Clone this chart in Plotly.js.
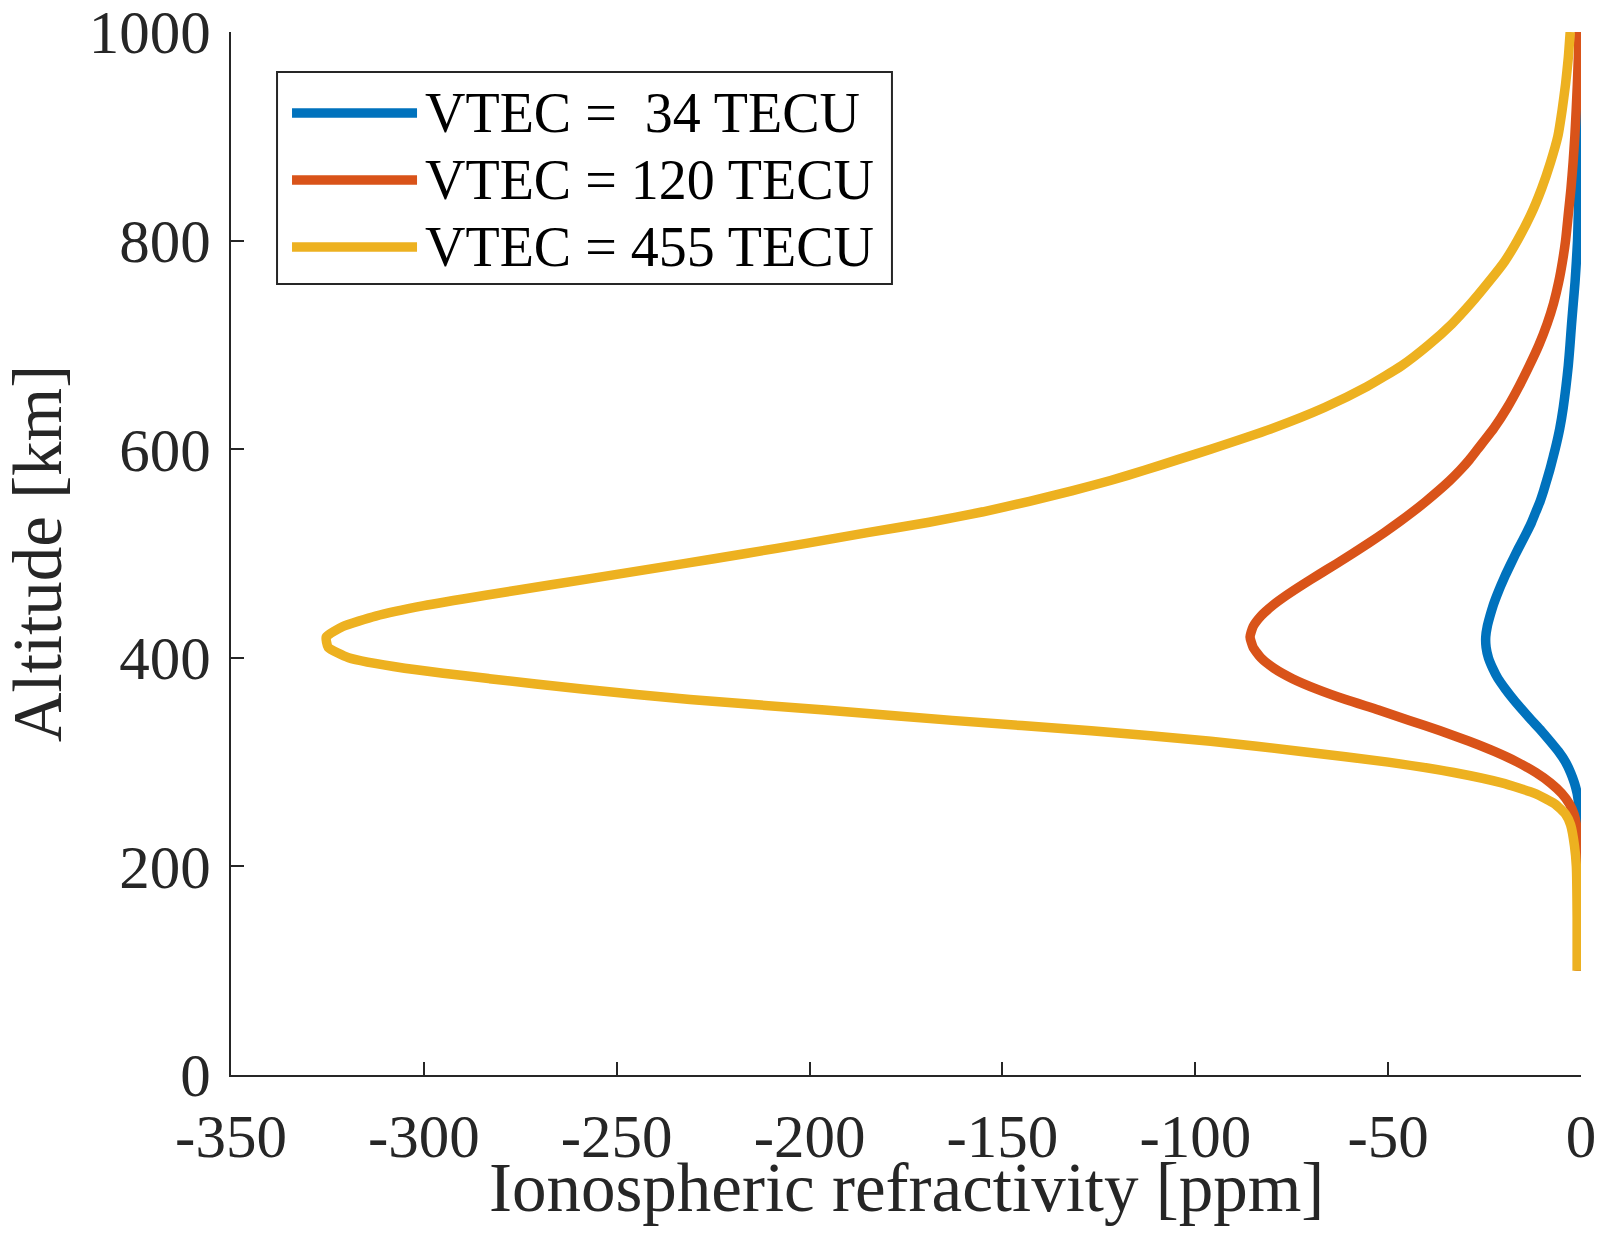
<!DOCTYPE html>
<html>
<head>
<meta charset="utf-8">
<script src="https://cdn.plot.ly/plotly-3.0.1.min.js"></script>
<style>
  html, body { margin: 0; padding: 0; background: #ffffff; }
  #chart { width: 1606px; height: 1258px; }
</style>
</head>
<body>
<div id="chart"></div>
<script>
// Altitude grid [km]
const altitudeKm = [100,150,200,220,240,250,260,270,280,290,300,310,320,330,340,350,360,370,380,390,400,410,420,430,440,450,460,470,480,490,500,510,520,530,540,550,560,570,580,590,600,620,640,660,680,700,720,740,760,780,800,825,850,875,900,925,950,975,1000];

// Ionospheric refractivity [ppm]
const refrVtec34 = [0,0,0,-0.05,-0.15,-0.3,-0.6,-1,-1.7,-2.7,-4,-5.8,-8,-10.3,-12.8,-15.2,-17.5,-19.6,-21.5,-22.9,-24,-24.6,-24.7,-24.3,-23.6,-22.8,-21.8,-20.7,-19.5,-18.2,-16.9,-15.5,-14.1,-12.8,-11.7,-10.6,-9.7,-8.9,-8.1,-7.4,-6.7,-5.5,-4.6,-3.9,-3.3,-2.85,-2.45,-2,-1.55,-1.2,-0.9,-0.7,-0.5,-0.35,-0.25,-0.18,-0.12,-0.08,-0.05];

const refrVtec120 = [-0.5,-0.5,-0.5,-0.7,-1.2,-1.8,-3,-5,-7.9,-11.7,-16.5,-22.3,-29,-36.5,-44.5,-52.5,-61,-68.5,-74.8,-79.6,-83,-85,-85.8,-85,-83,-80,-76.3,-72.2,-67.9,-63.5,-59.2,-55,-51,-47.2,-43.6,-40.2,-37,-34,-31.3,-28.9,-26.8,-22.6,-19.1,-16.1,-13.4,-10.9,-8.8,-7.1,-5.8,-4.8,-4,-3.3,-2.6,-2.05,-1.6,-1.25,-0.95,-0.7,-0.5];

const refrVtec455 = [-1,-1,-1.2,-1.7,-2.7,-4,-6.8,-12,-20.5,-33,-50,-72,-96,-127,-163,-196,-231,-259,-283,-305,-319.5,-324.8,-325.3,-321,-312.5,-300,-284,-267,-250,-233,-216.5,-200.5,-185,-169,-155,-143,-132,-122,-113,-104.5,-96,-80,-66.5,-55.5,-46.5,-39.5,-33.5,-28.5,-24,-19.8,-16.5,-13,-10.2,-7.9,-6,-4.9,-4,-3.3,-2.8];

const seriesNames = ['VTEC =\u00A0\u00A034 TECU', 'VTEC = 120 TECU', 'VTEC = 455 TECU'];
const seriesColors = ['#0072BD', '#D95319', '#EDB120'];

const xTickVals = [-350,-300,-250,-200,-150,-100,-50,0];
const xTickText = ['-350','-300','-250','-200','-150','-100','-50','0'];
const yTickVals = [0,200,400,600,800,1000];
const yTickText = ['0','200','400','600','800','1000'];

const xTitleText = 'Ionospheric refractivity [ppm]';
const yTitleText = 'Altitude [km]';

const fontFam = '"Liberation Serif", "Times New Roman", Times, serif';
const ink = '#262626';
const lineW = 9.5;

const seriesValues = [refrVtec34, refrVtec120, refrVtec455];
const traces = seriesValues.map((vals, i) => ({
  type: 'scatter',
  mode: 'lines',
  x: vals,
  y: altitudeKm,
  name: seriesNames[i],
  line: { color: seriesColors[i], width: lineW, shape: 'spline', smoothing: 0.5 },
  showlegend: false,
  hoverinfo: 'skip'
}));

// Custom legend (box with long line samples, like the original)
const legendRowsY = [0.9223, 0.8581, 0.7939];
const shapes = [{
  type: 'rect', xref: 'paper', yref: 'paper',
  x0: 0.0341, x1: 0.4896, y0: 0.7584, y1: 0.9617,
  line: { color: ink, width: 2 }, fillcolor: '#ffffff', layer: 'above'
}];
const annotations = [];
legendRowsY.forEach((yy, i) => {
  shapes.push({
    type: 'line', xref: 'paper', yref: 'paper',
    x0: 0.0452, x1: 0.1378, y0: yy, y1: yy,
    line: { color: seriesColors[i], width: lineW }, layer: 'above'
  });
  annotations.push({
    xref: 'paper', yref: 'paper', x: 0.1423, y: yy,
    xanchor: 'left', yanchor: 'middle', showarrow: false,
    text: seriesNames[i],
    font: { family: fontFam, size: 56, color: '#000000' }
  });
});

// x-axis title (placed as annotation to sit close under the tick labels)
annotations.push({
  xref: 'paper', yref: 'paper', x: 0.5, y: -0.1085,
  xanchor: 'center', yanchor: 'middle', showarrow: false,
  text: xTitleText,
  font: { family: fontFam, size: 69, color: ink }
});

const layout = {
  width: 1606, height: 1258,
  margin: { l: 231, r: 25, t: 32, b: 183, pad: 0 },
  paper_bgcolor: '#ffffff', plot_bgcolor: '#ffffff',
  font: { family: fontFam, color: ink },
  showlegend: false,
  xaxis: {
    range: [-350, 0], tickmode: 'array', tickvals: xTickVals, ticktext: xTickText,
    ticks: 'inside', ticklen: 13, tickwidth: 2, tickcolor: ink,
    showline: true, linecolor: ink, linewidth: 2, mirror: false,
    showgrid: false, zeroline: false, automargin: false,
    tickfont: { family: fontFam, size: 61, color: ink },
    ticklabelstandoff: 7, ticklabeloverflow: 'allow'
  },
  yaxis: {
    range: [0, 1000], tickmode: 'array', tickvals: yTickVals, ticktext: yTickText,
    ticks: 'inside', ticklen: 13, tickwidth: 2, tickcolor: ink,
    showline: true, linecolor: ink, linewidth: 2, mirror: false,
    showgrid: false, zeroline: false, automargin: false,
    tickfont: { family: fontFam, size: 61, color: ink },
    ticklabelstandoff: 6, ticklabeloverflow: 'allow',
    title: { text: yTitleText, font: { family: fontFam, size: 69, color: ink }, standoff: 35 }
  },
  shapes: shapes,
  annotations: annotations
};

Plotly.newPlot('chart', traces, layout, { displayModeBar: false, staticPlot: true });
</script>
</body>
</html>
